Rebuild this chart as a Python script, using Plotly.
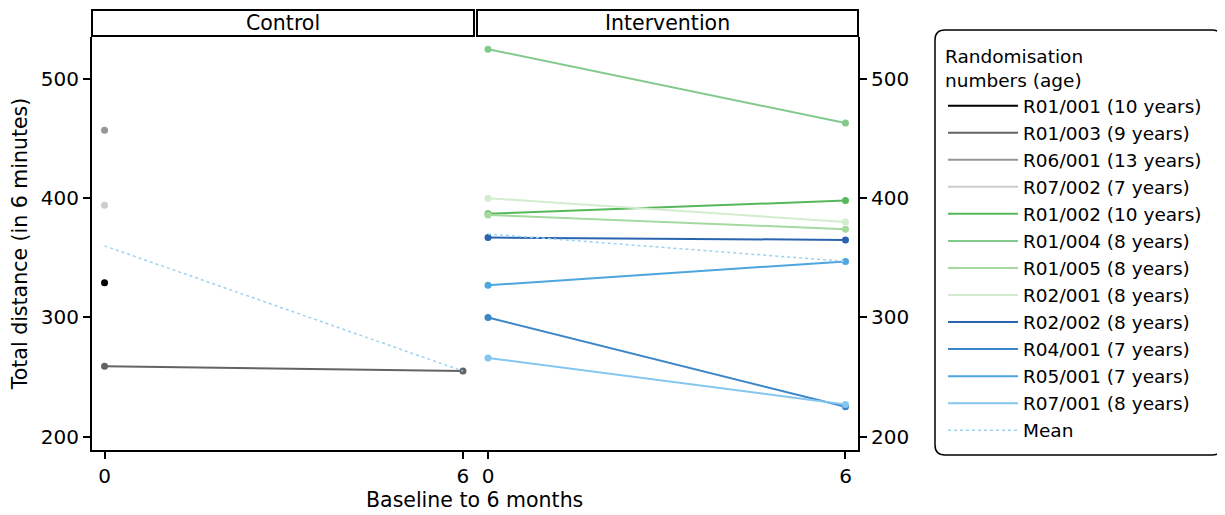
import plotly.graph_objects as go

# ---- data ----
subjects = ["R01/001 (10 years)", "R01/003 (9 years)", "R06/001 (13 years)", "R07/002 (7 years)",
            "R01/002 (10 years)", "R01/004 (8 years)", "R01/005 (8 years)", "R02/001 (8 years)",
            "R02/002 (8 years)", "R04/001 (7 years)", "R05/001 (7 years)", "R07/001 (8 years)"]
groups = ["Control"] * 4 + ["Intervention"] * 8
months = [0, 6]
baseline = [329, 259, 457, 394, 387, 525, 386, 400, 367, 300, 327, 266]
six_month = [None, 255, None, None, 398, 463, 374, 380, 365, 225, 347, 227]
mean_control = [360, 255]
mean_intervention = [370, 347]
colors = ["#000000", "#636363", "#969696", "#cccccc",
          "#56b85a", "#82ca8c", "#a5d99f", "#d3ebcf",
          "#2a64b0", "#3b86c8", "#4da6e0", "#84c6f0"]
mean_color = "#9dd2f0"
FONT = "DejaVu Sans"

fig = go.Figure()
for name, g, b, s, c in zip(subjects, groups, baseline, six_month, colors):
    xa, ya = ("x", "y") if g == "Control" else ("x2", "y2")
    xs = [m for m, v in zip(months, [b, s]) if v is not None]
    ys = [v for v in [b, s] if v is not None]
    fig.add_trace(go.Scatter(x=xs, y=ys, mode="lines", name=name, line=dict(color=c, width=2),
                             xaxis=xa, yaxis=ya, legendgroup=name))
    fig.add_trace(go.Scatter(x=xs, y=ys, mode="markers", name=name, showlegend=False,
                             marker=dict(color=c, size=7), xaxis=xa, yaxis=ya, legendgroup=name))

fig.add_trace(go.Scatter(x=months, y=mean_control, mode="lines", name="Mean",
                         line=dict(color=mean_color, width=1.5, dash="dot"), xaxis="x", yaxis="y",
                         legendgroup="Mean"))
fig.add_trace(go.Scatter(x=months, y=mean_intervention, mode="lines", name="Mean", showlegend=False,
                         line=dict(color=mean_color, width=1.5, dash="dot"), xaxis="x2", yaxis="y2",
                         legendgroup="Mean"))

# page has an 8px body margin; map reference pixel positions into the figure
OFF = 8
W, H = 1225 - OFF, 515 - OFF
def px(x): return (x - OFF) / W
def py(y): return 1 - (y - OFF) / H

yr = [188.8, 535.2]
xr = [-0.21, 6.21]
axis_common = dict(showline=True, linecolor="black", linewidth=2, mirror=False, showgrid=False,
                   zeroline=False, ticks="outside", ticklen=7, tickwidth=1.5, tickcolor="black",
                   tickfont=dict(family=FONT, size=20, color="black"))
fig.update_layout(
    width=W, height=H, margin=dict(l=0, r=0, t=0, b=0),
    paper_bgcolor="white", plot_bgcolor="white",
    font=dict(family=FONT, color="black"),
    xaxis=dict(domain=[px(92), px(475.5)], range=xr, tickvals=months, anchor="y", **axis_common),
    xaxis2=dict(domain=[px(475.5), px(858)], range=xr, tickvals=months, anchor="y2", **axis_common),
    yaxis=dict(domain=[py(450), py(37)], range=yr, tickvals=[200, 300, 400, 500], anchor="x",
               title=dict(text="Total distance (in 6 minutes)", font=dict(family=FONT, size=20.5), standoff=10),
               **axis_common),
    yaxis2=dict(domain=[py(450), py(37)], range=yr, tickvals=[200, 300, 400, 500], anchor="x2",
                side="right", **axis_common),
    legend=dict(x=px(943), y=py(39), xanchor="left", yanchor="top",
                font=dict(family=FONT, size=18.5, color="black"),
                title=dict(text="Randomisation<br>numbers (age)", font=dict(family=FONT, size=18.5)),
                bgcolor="rgba(0,0,0,0)", borderwidth=0, tracegroupgap=0, itemwidth=70),
    showlegend=True,
)

# strips
for x0, x1, label in [(92, 474, "Control"), (477, 858, "Intervention")]:
    fig.add_shape(type="rect", xref="paper", yref="paper", x0=px(x0), x1=px(x1), y0=py(36), y1=py(10),
                  line=dict(color="black", width=2), fillcolor="white")
    fig.add_annotation(xref="paper", yref="paper", x=px((x0 + x1) / 2), y=py(23), text=label,
                       showarrow=False, font=dict(family=FONT, size=20.5, color="black"),
                       xanchor="center", yanchor="middle")

# x axis title
fig.add_annotation(xref="paper", yref="paper", x=px(475), y=py(500), text="Baseline to 6 months",
                   showarrow=False, font=dict(family=FONT, size=20.5, color="black"),
                   xanchor="center", yanchor="middle")

# rounded legend box
x0, x1, y0, y1, r = 935, 1222, 30, 455, 10
path = (f"M {px(x0 + r)},{py(y0)} L {px(x1 - r)},{py(y0)} Q {px(x1)},{py(y0)} {px(x1)},{py(y0 + r)} "
        f"L {px(x1)},{py(y1 - r)} Q {px(x1)},{py(y1)} {px(x1 - r)},{py(y1)} "
        f"L {px(x0 + r)},{py(y1)} Q {px(x0)},{py(y1)} {px(x0)},{py(y1 - r)} "
        f"L {px(x0)},{py(y0 + r)} Q {px(x0)},{py(y0)} {px(x0 + r)},{py(y0)} Z")
fig.add_shape(type="path", xref="paper", yref="paper", path=path, line=dict(color="black", width=1.5))

fig.write_html("out.html")
